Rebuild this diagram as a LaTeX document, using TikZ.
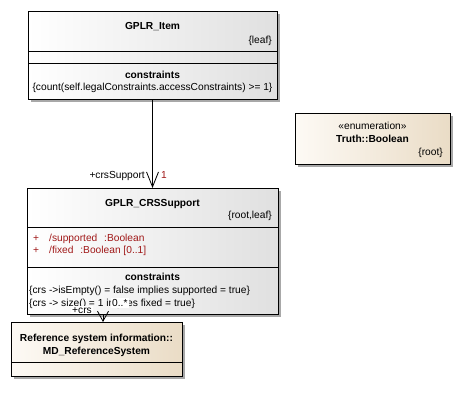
\documentclass[tikz,border=0pt]{standalone}
\usepackage{fontspec}
\setmainfont{Liberation Sans}
\usetikzlibrary{arrows.meta}
\definecolor{beigeL}{HTML}{FDFAF5}
\definecolor{beigeR}{HTML}{EADCC6}
\definecolor{grayR}{HTML}{E0E0E0}
\definecolor{attr}{HTML}{A01818}
\definecolor{shadowc}{HTML}{A8A8A8}
\begin{document}
\begin{tikzpicture}[x=1pt,y=-1pt,
  font=\fontsize{10.2}{12}\selectfont,
  classbox/.style={draw=black, line width=0.8pt, inner sep=0pt, outer sep=0pt, anchor=north west},
  graybox/.style={classbox, left color=white, right color=grayR},
  beigebox/.style={classbox, left color=beigeL, right color=beigeR},
  shadowbox/.style={fill=shadowc},
  divider/.style={draw=black, line width=0.8pt},
  txt/.style={inner sep=0pt, anchor=base},
  rtxt/.style={inner sep=0pt, anchor=base east},
  ltxt/.style={inner sep=0pt, anchor=base west},
  attrtxt/.style={ltxt, text=attr},
  conn/.style={draw=black, line width=0.8pt, -{Straight Barb[length=15pt,width=12pt,line width=0.8pt]}},
  connshort/.style={draw=black, line width=0.8pt, -{Straight Barb[length=10pt,width=11pt,line width=0.8pt]}},
  rolelbl/.style={inner sep=1pt, fill=white}
]
\useasboundingbox (0,0) rectangle (460,405);
% shadows
\fill[shadowbox] (31,14) rectangle (280,102);
\fill[shadowbox] (30,191) rectangle (281,317);
\fill[shadowbox] (14,325) rectangle (185,379);
\fill[shadowbox] (298,116) rectangle (453,167);
% GPLR_Item
\node[graybox, minimum width=249pt, minimum height=88pt] (item) at (28,11) {};
\draw[divider] (28,51) -- (277,51);
\draw[divider] (28,63) -- (277,63);
\node[txt] (itemname) at (152.5,29.5) {\bfseries GPLR\_Item};
\node[rtxt] (itemtag) at (272,43.5) {\{leaf\}};
\node[txt] (itemct) at (152.5,78.5) {\bfseries constraints};
\node[txt] (itemc1) at (152.5,90.5) {\{count(self.legalConstraints.accessConstraints) >= 1\}};
% Enumeration
\node[beigebox, minimum width=155pt, minimum height=51pt] (enum) at (295,113) {};
\node[txt] (enumst) at (372.5,129.5) {«enumeration»};
\node[txt] (enumname) at (372.5,142.5) {\bfseries Truth::Boolean};
\node[rtxt] (enumtag) at (443,155.5) {\{root\}};
% GPLR_CRSSupport
\node[graybox, minimum width=251pt, minimum height=126pt] (crs) at (27,188) {};
\draw[divider] (27,227) -- (278,227);
\draw[divider] (27,267) -- (278,267);
\node[txt] (crsname) at (152.5,206.5) {\bfseries GPLR\_CRSSupport};
\node[rtxt] (crstag) at (272,218.5) {\{root,leaf\}};
\node[attrtxt] (a1p) at (33,241.5) {+};
\node[attrtxt] (a1) at (49,241.5) {/supported\hspace{4pt} :Boolean};
\node[attrtxt] (a2p) at (33,253.5) {+};
\node[attrtxt] (a2) at (49,253.5) {/fixed\hspace{4pt} :Boolean [0..1]};
\node[txt] (crsct) at (152.5,280.5) {\bfseries constraints};
\node[ltxt] (crsc1) at (29,293.5) {\{crs ->isEmpty() = false implies supported = true\}};
\node[ltxt] (crsc2) at (29,306.5) {\{crs -> size() = 1 implies fixed = true\}};
% MD_ReferenceSystem
\node[beigebox, minimum width=171pt, minimum height=54pt] (md) at (11,322) {};
\draw[divider] (11,362) -- (182,362);
\node[txt] (mdname1) at (96.5,341.5) {\bfseries Reference system information::};
\node[txt] (mdname2) at (96.5,354.5) {\bfseries MD\_ReferenceSystem};
% connectors
\draw[conn] (item.south) -- (crs.north);
\node[rtxt] (r1) at (145,178.5) {+crsSupport};
\node[ltxt, text=attr] (m1) at (161,178.5) {1};
\coordinate (s2) at (103,314);
\draw[connshort] (s2) -- (s2 |- md.north);
\node[rolelbl, anchor=base] (r2) at (82,313) {+crs};
\node[rolelbl, anchor=base west] (m2) at (111,306.5) {0..*};
\end{tikzpicture}
\end{document}
